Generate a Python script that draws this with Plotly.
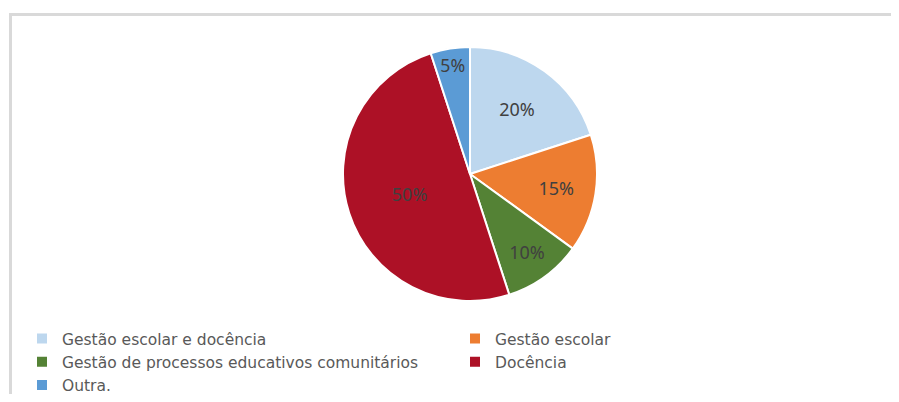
import plotly.graph_objects as go

categories = [
    "Gestão escolar e docência",
    "Gestão escolar",
    "Gestão de processos educativos comunitários",
    "Docência",
    "Outra.",
]
shares = [20, 15, 10, 50, 5]
colors = ["#bdd7ee", "#ed7d31", "#548235", "#ad1126", "#5b9bd5"]

# the page body keeps an 8px margin all round, so keep the figure inside the window
W, H = 883, 386
cx, cy, r = 462, 166, 127

fig = go.Figure(
    go.Pie(
        labels=categories,
        values=shares,
        sort=False,
        direction="clockwise",
        rotation=0,
        marker=dict(colors=colors, line=dict(color="white", width=2)),
        texttemplate="%{value}%",
        textposition="inside",
        insidetextorientation="horizontal",
        textfont=dict(family="Noto Sans", size=18, color="#404040"),
        hoverinfo="label+percent",
        domain=dict(x=[(cx - r) / W, (cx + r) / W], y=[1 - (cy + r) / H, 1 - (cy - r) / H]),
    )
)

# chart area frame (right and bottom edges run off the picture)
fig.add_shape(
    type="rect", xref="paper", yref="paper",
    x0=2.5 / W, x1=1.05, y0=-0.05, y1=1 - 6.5 / H,
    line=dict(color="#d9d9d9", width=3), fillcolor="rgba(0,0,0,0)", layer="below",
)

fig.update_layout(
    width=W,
    height=H,
    margin=dict(l=0, r=0, t=0, b=0, autoexpand=False),
    paper_bgcolor="white",
    plot_bgcolor="white",
    font=dict(family="DejaVu Sans", color="#595959"),
    legend=dict(
        orientation="h",
        x=14 / W,
        xanchor="left",
        y=1 - 314 / H,
        yanchor="top",
        entrywidth=388,
        entrywidthmode="pixels",
        font=dict(family="DejaVu Sans", size=15.5, color="#595959"),
        tracegroupgap=0,
        itemwidth=30,
        bgcolor="rgba(0,0,0,0)",
    ),
)

fig.write_html("out.html")
